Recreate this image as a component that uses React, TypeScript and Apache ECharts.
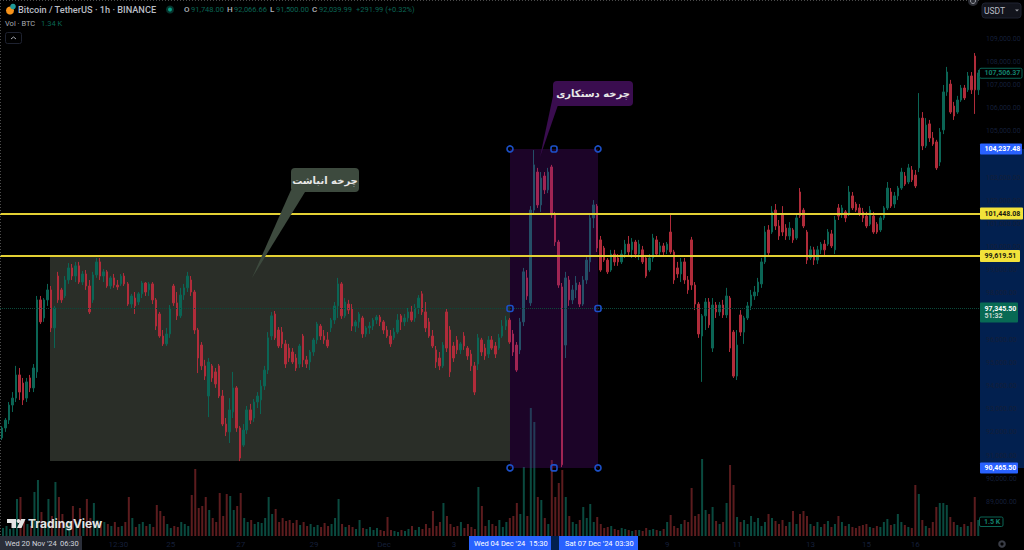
import React, { useEffect, useRef } from "react";
import * as echarts from "echarts";

const opens = [
91760,92190,92530,93180,93480,94480,94130,93480,94350,93920,
94610,97720,96940,97720,98150,96510,98750,98150,97890,98580,
99100,98750,99190,98490,98840,98320,97720,98800,99360,98750,
98930,98320,98670,98360,98410,98750,98410,97540,97800,97630,
97980,98450,98150,98410,97720,97110,96160,95820,96250,98320,
97590,97030,97930,98240,98580,98060,96420,95770,94870,93570,
94870,94610,94870,93570,92360,92020,92880,93920,92190,91450,
92100,92970,92620,93310,93400,94000,94690,96160,97110,96420,
96330,95820,95640,95470,95210,94950,96160,95130,95040,95470,
95990,96590,96160,95990,96510,96850,97460,98410,97030,97540,
97370,96590,96770,96940,96250,96510,96590,96850,96980,96770,
96420,96160,96080,96330,97030,96770,96940,97200,96940,97370,
97980,97200,96770,96160,95560,95210,94870,97200,96420,95730,
95990,95560,96160,95640,95380,94870,94950,95990,95640,95380,
95990,95730,95640,96160,96590,96850,96250,95770,95560,96770,
98670,97590,101600,103240,101820,103070,102470,103460,101390,100220,
98280,95770,98580,97720,98150,98360,97540,98580,99360,101260,
101770,100310,99960,99440,99010,99700,99530,99360,99700,100130,
99880,100220,99700,99880,99530,99010,99530,100310,99790,100050,
99880,100650,99790,99100,98840,99360,98580,100310,98360,97540,
96160,97030,97630,95640,97500,97200,97500,97070,97800,96330,
94430,97070,96330,96940,97460,97890,98060,98410,99360,100740,
100650,101600,100910,101430,100820,100480,100740,100390,102380,101600,
100650,99530,99880,99440,99880,100130,100130,100570,99880,101690,
101430,101520,101430,102210,101860,101690,101520,101340,100990,101340,
100990,100740,101260,101690,102380,101860,102210,102550,103070,102810,
103330,103110,103420,105570,104370,105320,104710,104540,103670,105060,
106700,107040,106090,105830,106350,106870,106790,107390,108250,106790,
];
const closes = [
92190,92530,93180,93480,94480,93740,93400,94180,93920,94780,
97720,96770,97720,98150,96510,97370,97720,97720,98580,99100,
98750,99190,98490,98840,98320,97200,98800,99360,98750,98930,
98320,98670,98360,98280,98750,98410,97540,97890,97460,97980,
98450,98060,98410,97720,96590,96160,95820,96250,97370,97590,
97030,97930,98240,98750,98060,96420,95210,94870,94430,95040,
94350,94090,93570,92360,92020,92970,93920,92190,90890,92100,
92970,92530,93310,93570,94000,94690,96080,97030,96080,95730,
95820,94950,95210,95040,94780,95730,95130,94950,95470,95990,
96680,96160,95990,95730,96850,97460,98410,97030,97630,97280,
96590,96770,97110,96250,96510,96590,96850,96980,96770,96420,
96160,95820,96330,96850,96770,96940,97200,96850,97370,97800,
97200,96510,96160,95730,95040,94870,95770,95640,94610,95210,
95560,95820,95730,95300,94870,93740,96080,95470,95300,95990,
95640,95380,96080,96590,96850,95900,95470,94690,96770,98930,
97890,101600,103550,101820,102980,102470,103240,101390,100220,98360,
90600,98670,97720,98150,98450,97540,98580,99440,101260,101820,
99960,99010,99440,98930,99700,99360,99360,99700,100130,99790,
100220,99700,100130,99360,98750,99530,100390,99700,100050,99790,
100130,99790,98580,98840,99360,98580,98150,98360,97540,96250,
97030,97630,96640,97500,97200,97500,97070,97890,95640,94430,
95770,96330,96940,97460,97930,98060,98490,99360,100650,99750,
101520,100910,100480,100650,100480,100820,100310,101260,101340,100910,
99440,99880,99440,99880,100130,99880,100650,100050,101170,101340,
101690,101260,102380,101690,101600,101430,101260,100910,101600,100650,
100650,101260,101690,102550,101770,102210,102550,103240,102720,103420,
102900,102640,105570,104370,105270,104710,104450,103420,104970,106700,
107560,105830,105660,106350,106870,106440,107390,106790,106790,107520,
];
const highs = [
92270,92620,93310,93740,94870,94780,94350,94350,94480,94950,
97890,97890,97800,98410,98320,97460,98930,98240,98750,99310,
99270,99360,99360,98970,99010,98580,98930,99530,99530,99050,
99010,98750,98840,98580,98840,98880,98490,97980,98060,98060,
98540,98490,98490,98490,97800,97200,96420,96510,97500,98410,
98060,98240,98410,98930,98750,98150,96510,95900,95130,95210,
94950,94780,94950,93830,92620,93480,94610,94000,92270,92360,
93140,93230,93440,93740,94260,94870,96330,97200,97240,96550,
96550,95990,95820,95640,95380,95820,96250,95300,95560,96080,
96770,96680,96420,96330,96940,97630,98670,98490,97800,97720,
97540,96850,97200,97030,96590,96770,96940,97070,97070,96850,
96590,96420,96510,97110,97110,97110,97370,97460,97540,97930,
98100,97630,96940,96420,95730,95470,95900,97370,96590,95900,
96160,95900,96330,95730,95560,95040,96250,96080,95820,96160,
96160,95900,96250,96850,97030,96940,96420,95900,96940,99100,
99010,101770,104190,103420,103240,103240,103420,103550,101520,100310,
98450,98930,98750,98360,98750,98490,98750,99620,101430,102030,
101860,100480,100050,99530,99880,99880,99700,99880,100310,100480,
100390,100310,100310,100050,99660,99700,100570,100480,100220,100180,
100220,101390,99880,99360,99530,99530,98750,100440,98490,97630,
97110,97800,97800,97800,97630,97630,97720,98240,97890,96420,
96420,97280,97030,97630,98150,98320,98670,99530,100910,100950,
101770,101860,101170,101770,100990,101080,100820,101430,102550,101690,
100740,100050,100010,100050,100220,100310,100780,100740,101340,101860,
101820,101600,102640,102380,101950,101860,101690,101520,101770,101520,
101080,101340,101770,102810,102550,102380,102640,103420,103240,103590,
103500,103330,106650,105830,105570,105490,104970,104630,105140,107000,
107780,107220,106270,106530,107000,107000,107560,107560,108380,107650,
];
const lows = [
91670,92020,92360,92880,93310,93400,93180,93310,93740,93740,
94350,96680,96770,97460,96330,95640,97590,97590,97800,98410,
98580,98490,98410,98360,98150,97110,97590,98670,98580,98490,
98240,98190,98240,98150,98320,98320,97460,97370,97110,97500,
97800,97890,97890,97540,96420,96080,95730,95730,96080,97460,
96850,96940,97720,98060,97890,96250,94560,94690,94260,92660,
94180,93920,93480,92270,91840,91540,92620,92020,90760,91370,
91930,92360,92450,93050,92790,93830,94520,95990,95990,95640,
95640,94780,95040,94950,94650,94780,94820,94780,94690,95300,
95820,95990,95820,95640,96330,96680,96940,96900,96940,97110,
96380,96330,96510,96080,96120,96250,96420,96680,96590,96250,
96080,95690,95990,96250,96420,96590,96770,96770,96770,97110,
97070,96330,96080,95640,94780,94690,94780,95470,94390,95040,
95380,95380,95560,95130,94650,93610,94690,95300,95130,95210,
95560,95210,95560,96080,96420,95820,95300,94610,95380,96590,
97720,97460,101470,101690,101520,102290,102330,101260,100050,98240,
90500,95210,97460,97540,97800,97410,97460,98410,98930,100820,
99790,98930,99360,98840,98930,99190,99190,99270,99530,99620,
99530,99530,99440,99270,98670,98930,99360,99620,99620,99660,
99700,99700,98410,98670,98490,98410,97980,98150,97280,96080,
94180,96420,96510,95470,96940,97030,96940,96940,95470,94350,
94260,96160,95820,96850,97280,97720,97890,98240,99270,99660,
100570,100740,100310,100480,100310,100310,100180,100310,101260,100820,
99270,99440,99230,99270,99700,99620,100050,99960,99700,101170,
101260,101080,101340,101600,101520,101340,101080,100820,100910,100570,
100570,100650,101170,101600,101690,101690,102030,102470,102640,102720,
102810,102550,103240,104190,104280,104540,104370,103330,103500,104880,
106530,105750,105490,105750,106270,106350,106700,106610,105750,106570,
];
const volumes = [
800,1000,700,1400,3700,3900,1500,1200,1000,4400,
5600,2400,1400,3700,2000,5400,3900,2200,1000,1400,
3000,1200,2800,1400,3700,1800,3300,1600,1200,1400,
1200,1000,1400,900,1000,1400,3900,1800,900,1200,
1400,1000,1200,900,3100,2500,2000,1200,800,1000,
900,1400,1200,1000,4100,6700,2800,3000,3900,2600,
1800,1400,4300,2000,4200,4000,2600,3000,4300,1800,
1400,1600,1200,1400,1300,1800,3900,2200,2700,1400,
1800,1500,1600,1300,1600,1100,1400,1000,1200,900,
1100,900,1300,1000,1200,1800,3700,1200,900,1100,
900,700,1600,800,700,900,600,800,600,500,
1900,600,500,400,600,500,700,1000,600,900,
700,1200,800,2500,1000,1400,3300,2000,1200,900,
1000,1400,800,1200,900,700,4900,3000,1000,1600,
1200,1000,1600,900,1400,1800,2000,3300,2200,6900,
2000,12800,11400,3900,3600,1800,1200,7600,3900,5300,
6600,3900,2000,1400,1200,1600,2900,1800,3200,1400,
1900,1200,800,900,1000,700,600,800,700,600,
500,600,600,500,800,600,700,600,500,700,
1400,2100,1000,800,1200,1600,1400,4800,2000,2200,
7700,2600,2200,2900,1500,1200,1400,3300,7100,5100,
1900,1400,1600,1200,2000,1400,1800,1000,1400,2200,
1800,1500,1200,1600,1000,1400,2500,1200,2200,2500,
2000,1200,1000,1400,900,1200,1500,900,1200,2000,
1400,1000,1200,900,800,1000,1100,1200,900,800,
1000,900,1400,1700,1100,1200,2200,1400,1100,900,
800,5100,4200,1600,1000,800,1400,2900,3300,3300,
3100,1900,1400,1100,900,1200,1000,1400,3900,1600,
];
const priceLevels = { upperLevel: 101448.08, lowerLevel: 99619.51, boxTop: 104237.48, boxBottom: 90465.5, last: 97345.5, high: 107506.37, accumulationBottom: 90760 };
const timeLabels: Record<number, string> = { 33: "12:30", 48: "25", 68: "27", 89: "29", 109: "Dec", 129: "3", 190: "9", 210: "11", 231: "13", 247: "15", 261: "16" };
const hiddenPriceTicks = [110000, 104000, 97000, 88000];
const categories = opens.map((_, i) => timeLabels[i] ?? "");

const GREEN = "#0b6555";
const RED = "#b02c3a";
const DIM = "#141f38";
const FONT = "Roboto, sans-serif";
const GRID_TOP = 15.5;
const GRID_H = 509.5;
const MAX_P = 110000;
const MIN_P = 88000;
const py = (v: number) => GRID_TOP + ((MAX_P - v) / (MAX_P - MIN_P)) * GRID_H;

function txt(x: number, y: number, text: string, fill: string, fontSize: number, extra: any = {}) {
  return { type: "text", z: 20, x, y, silent: true, style: { text, fill, fontSize, fontFamily: FONT, textVerticalAlign: "middle", ...extra } };
}
function rect(x: number, y: number, width: number, height: number, fill: string, r = 0, extra: any = {}, z = 19) {
  return { type: "rect", z, silent: true, shape: { x, y, width, height, r }, style: { fill, ...extra } };
}
function tag(v: number, label: string, fill: string, color: string, width: number, height = 11) {
  const y = py(v);
  return [rect(980, y - height / 2, width, height, fill, 1), txt(980 + 4.5, y, label, color, 7, { fontWeight: "bold" })];
}
function handle(x: number, y: number, square: boolean) {
  const style = { fill: "transparent", stroke: "#1c50c8", lineWidth: 1.6 };
  return square
    ? { type: "rect", z: 18, silent: true, shape: { x: x - 3, y: y - 3, width: 6, height: 6, r: 2 }, style }
    : { type: "circle", z: 18, silent: true, shape: { cx: x, cy: y, r: 3 }, style };
}

function buildGraphic() {
  const { boxTop, boxBottom, upperLevel, lowerLevel, last, high, accumulationBottom } = priceLevels;
  const bx0 = 510, bx1 = 598, mid = 554;
  const yTop = py(boxTop), yBot = py(boxBottom), yMid = py(last);
  const dotted = { stroke: "#4a4a4a", lineWidth: 1, lineDash: [1, 2] };
  const els: any[] = [
    // price-axis range band
    rect(980, yTop, 44, yBot - yTop, "#02204f", 0, {}, -1),
    rect(551, 536, 8, 14, "#02204f", 0, {}, 1),
    // accumulation and manipulation boxes
    rect(50, py(lowerLevel) + 1, bx0 - 50, py(accumulationBottom) - py(lowerLevel) - 1, "#2a2e28", 0, {}, 1),
    rect(bx0, yTop, bx1 - bx0, yBot - yTop, "rgba(110,15,160,0.25)", 0, {}, 3),
    // window edges
    { type: "line", z: 20, silent: true, shape: { x1: 0.5, y1: 0, x2: 0.5, y2: 536 }, style: dotted },
    { type: "line", z: 20, silent: true, shape: { x1: 0, y1: 0.5, x2: 980, y2: 0.5 }, style: dotted },
    // callouts
    { type: "polygon", z: 6, silent: true, shape: { points: [[291, 190], [305, 192], [252, 278]] }, style: { fill: "#3d4a3e" } },
    rect(291, 168, 68, 24, "#3d4a3e", 4, {}, 6),
    txt(325, 180, "چرخه انباشت", "#e8e8e8", 10, { fontFamily: "DejaVu Sans", fontWeight: "bold", textAlign: "center" }),
    { type: "polygon", z: 6, silent: true, shape: { points: [[553, 96], [558, 105], [540, 157]] }, style: { fill: "#3a0d4f" } },
    rect(553, 81, 80, 25, "#3a0d4f", 4, {}, 6),
    txt(593, 93, "چرخه دستکاری", "#e8e8e8", 10, { fontFamily: "DejaVu Sans", fontWeight: "bold", textAlign: "center" }),
    // handles
    handle(bx0, yTop, false), handle(bx1, yTop, false), handle(bx0, yBot, false), handle(bx1, yBot, false),
    handle(mid, yTop, true), handle(mid, yBot, true), handle(bx0, yMid, true), handle(bx1, yMid, true),
    // legend
    { type: "circle", z: 20, silent: true, shape: { cx: 10, cy: 10.5, r: 4 }, style: { fill: "#f7931a" } },
    { type: "circle", z: 21, silent: true, shape: { cx: 13, cy: 6.5, r: 2.8 }, style: { fill: "#1f9a9a" } },
    txt(18, 9.5, "Bitcoin / TetherUS · 1h · BINANCE", "#b9bcc4", 9.2, { fontWeight: 500 }),
    { type: "circle", z: 20, silent: true, shape: { cx: 170, cy: 9.5, r: 4 }, style: { fill: "#07352e" } },
    { type: "circle", z: 21, silent: true, shape: { cx: 170, cy: 9.5, r: 2 }, style: { fill: "#089981" } },
    txt(184, 9.5, "O", "#b0b3ba", 8, { fontWeight: 500 }),
    txt(191, 9.5, "91,748.00", GREEN, 7.5),
    txt(227, 9.5, "H", "#b0b3ba", 8, { fontWeight: 500 }),
    txt(234, 9.5, "92,066.66", GREEN, 7.5),
    txt(270, 9.5, "L", "#b0b3ba", 8, { fontWeight: 500 }),
    txt(276, 9.5, "91,500.00", GREEN, 7.5),
    txt(312, 9.5, "C", "#b0b3ba", 8, { fontWeight: 500 }),
    txt(319, 9.5, "92,039.99", GREEN, 7.5),
    txt(356, 9.5, "+291.99 (+0.32%)", GREEN, 7.5),
    txt(5, 23.5, "Vol · BTC", "#a8abb2", 7.5),
    txt(41, 23.5, "1.34 K", GREEN, 7.5),
    rect(5.5, 32.5, 16, 11, "#000", 2, { stroke: "#1e2230", lineWidth: 1 }),
    { type: "polyline", z: 20, silent: true, shape: { points: [[11, 39], [13.5, 37], [16, 39]] }, style: { stroke: "#a8abb2", fill: "none", lineWidth: 1 } },
    // top-right controls
    { type: "circle", z: 20, silent: true, shape: { cx: 973, cy: 1, r: 5 }, style: { fill: "#2a2c33" } },
    { type: "circle", z: 21, silent: true, shape: { cx: 973, cy: 1, r: 2.5 }, style: { fill: "transparent", stroke: "#9a9ca3", lineWidth: 1 } },
    rect(982, 3, 39, 15, "#12141c", 3, { stroke: "#1e2230", lineWidth: 1 }),
    txt(984, 10.5, "USDT", "#b9bcc4", 8.5),
    { type: "polygon", z: 20, silent: true, shape: { points: [[1015, 9.5], [1019, 9.5], [1017, 11.5]] }, style: { fill: "#9a9ca3" } },
    // price tags
    ...tag(boxTop, "104,237.48", "#2962ff", "#ffffff", 42),
    ...tag(upperLevel, "101,448.08", "#f2e23a", "#1a1a10", 43, 12),
    ...tag(lowerLevel, "99,619.51", "#f2e23a", "#1a1a10", 40, 12),
    ...tag(boxBottom, "90,465.50", "#2962ff", "#ffffff", 38),
    rect(979.5, py(high) - 5, 42.5, 10, "#000", 1.5, { stroke: "#0b6555", lineWidth: 1 }),
    txt(984.5, py(high), "107,506.37", "#12806c", 7, { fontWeight: "bold" }),
    rect(980, yMid - 6, 38, 20, "#086a54", 1),
    txt(984.5, yMid, "97,345.50", "#ffffff", 7, { fontWeight: "bold" }),
    txt(984.5, yMid + 7.5, "51:32", "#c8d8d2", 7, { fontWeight: "bold" }),
    rect(979.5, 517, 23.5, 9.5, "#000", 1.5, { stroke: "#0b6555", lineWidth: 1 }),
    txt(984, 522, "1.5 K", "#12806c", 7, { fontWeight: "bold" }),
    // time tags
    rect(0, 536, 82, 14, "#2a2e39"),
    txt(5, 543.5, "Wed 20 Nov '24", "#d1d4dc", 7.5),
    txt(60, 543.5, "06:30", "#d1d4dc", 7.5),
    rect(469, 536, 82, 14, "#2962ff"),
    txt(474, 543.5, "Wed 04 Dec '24", "#ffffff", 7.5),
    txt(529, 543.5, "15:30", "#ffffff", 7.5),
    rect(559, 536, 79, 14, "#2962ff"),
    txt(565, 543.5, "Sat 07 Dec '24", "#ffffff", 7.5),
    txt(615, 543.5, "03:30", "#ffffff", 7.5),
    // settings icon
    { type: "circle", z: 20, silent: true, shape: { cx: 1002, cy: 544, r: 3.8 }, style: { fill: "#3a3d46" } },
    { type: "circle", z: 21, silent: true, shape: { cx: 1002, cy: 544, r: 1.6 }, style: { fill: "#000" } },
    // TradingView logo
    { type: "polygon", z: 20, silent: true, shape: { points: [[7, 519], [16, 519], [16, 528], [11.5, 528], [11.5, 523], [7, 523]] }, style: { fill: "#e4e4e4" } },
    { type: "circle", z: 20, silent: true, shape: { cx: 18.5, cy: 521, r: 1.9 }, style: { fill: "#e4e4e4" } },
    { type: "polygon", z: 20, silent: true, shape: { points: [[21, 519], [25.5, 519], [21.5, 528], [17, 528]] }, style: { fill: "#e4e4e4" } },
    txt(28, 523.5, "TradingView", "#e4e4e4", 12, { fontWeight: "bold", fontFamily: "Inter, sans-serif" }),
  ];
  return els;
}

export default function App() {
  const ref = useRef<HTMLDivElement>(null);
  useEffect(() => {
    document.body.style.margin = "0";
    const chart = echarts.init(ref.current!, undefined, { renderer: "svg" });
    const hLine = (v: number, color: string, width: number, type: string) => ({ yAxis: v, lineStyle: { color, width, type } });
    chart.setOption({
      animation: false,
      backgroundColor: "#000000",
      grid: [
        { left: 0, width: 980, top: GRID_TOP, height: GRID_H },
        { left: 0, width: 980, top: 408, height: 128 },
      ],
      xAxis: [
        { type: "category", gridIndex: 0, data: categories, show: false },
        {
          type: "category", gridIndex: 1, data: categories,
          axisLine: { show: false }, axisTick: { show: false }, splitLine: { show: false },
          axisLabel: { interval: 0, color: DIM, fontSize: 8, fontFamily: FONT, margin: 4, hideOverlap: false },
        },
      ],
      yAxis: [
        {
          type: "value", gridIndex: 0, position: "right", min: MIN_P, max: MAX_P, interval: 1000,
          axisLine: { show: false }, axisTick: { show: false }, splitLine: { show: false },
          axisLabel: {
            color: DIM, fontSize: 7, fontFamily: FONT, margin: 6,
            formatter: (v: number) => hiddenPriceTicks.includes(v) ? "" : v.toLocaleString("en-US", { minimumFractionDigits: 2, maximumFractionDigits: 2 }),
          },
        },
        { type: "value", gridIndex: 1, min: 0, max: 12800, show: false },
      ],
      series: [
        {
          type: "bar", xAxisIndex: 1, yAxisIndex: 1, z: 1, barWidth: 2, silent: true,
          data: volumes.map((v, i) => ({ value: v, itemStyle: { color: closes[i] >= opens[i] ? "#0a4a3f" : "#5c1c1e" } })),
        },
        {
          type: "candlestick", xAxisIndex: 0, yAxisIndex: 0, z: 2, barWidth: 2, silent: true,
          itemStyle: { color: GREEN, color0: RED, borderColor: GREEN, borderColor0: RED, borderWidth: 1 },
          data: opens.map((o, i) => [o, closes[i], lows[i], highs[i]]),
          markLine: {
            silent: true, symbol: "none", animation: false, label: { show: false }, z: 5,
            data: [
              hLine(priceLevels.upperLevel, "#e3d034", 2.2, "solid"),
              hLine(priceLevels.lowerLevel, "#e3d034", 2.2, "solid"),
              hLine(priceLevels.last, "#0a4a3c", 1, "dotted"),
            ],
          },
        },
      ],
      graphic: { elements: buildGraphic() },
    });
    return () => chart.dispose();
  }, []);
  return <div ref={ref} style={{ position: "fixed", left: 0, top: 0, width: 1024, height: 550 }} />;
}
